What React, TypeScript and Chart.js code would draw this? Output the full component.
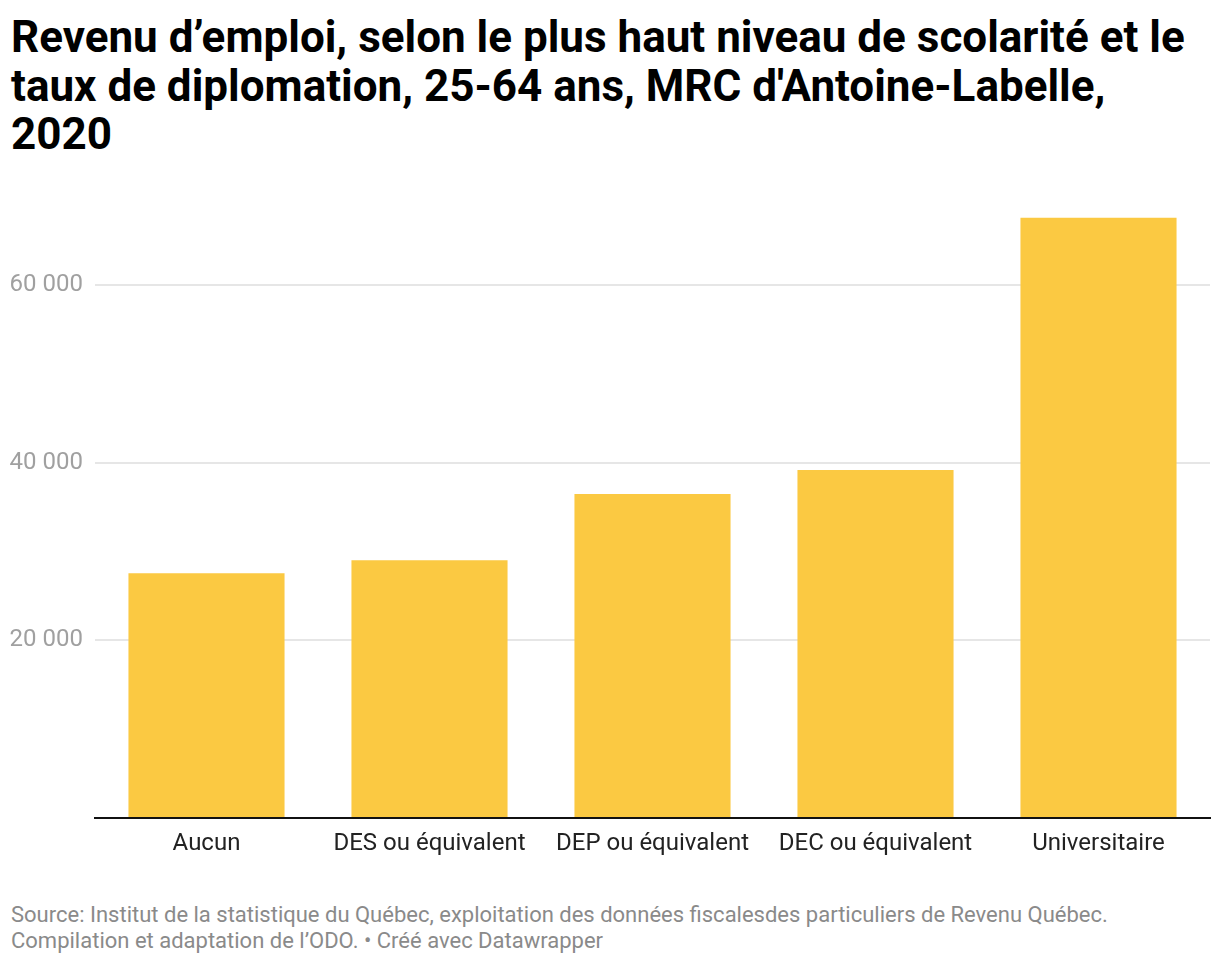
import React, { useEffect, useRef } from "react";
import { Chart, registerables } from "chart.js";

Chart.register(...registerables);

const categories = ["Aucun", "DES ou équivalent", "DEP ou équivalent", "DEC ou équivalent", "Universitaire"];
const revenus = [27550, 29010, 36450, 39150, 67550];
const yTicks = [20000, 40000, 60000];
const yTickLabels = ["20 000", "40 000", "60 000"];

const titleText = "Revenu d’emploi, selon le plus haut niveau de scolarité et le taux de diplomation, 25-64 ans, MRC d'Antoine-Labelle, 2020";
const sourceLine1 = "Source: Institut de la statistique du Québec, exploitation des données fiscalesdes particuliers de Revenu Québec.";
const sourceLine2 = "Compilation et adaptation de l’ODO. • Créé avec Datawrapper";

export default function App() {
  const ref = useRef<HTMLCanvasElement | null>(null);

  useEffect(() => {
    if (!ref.current) return;
    const chart = new Chart(ref.current, {
      type: "bar",
      data: {
        labels: categories,
        datasets: [
          {
            data: revenus,
            backgroundColor: "#fbc942",
            borderWidth: 0,
            barPercentage: 0.7,
            categoryPercentage: 1,
          },
        ],
      },
      options: {
        animation: false,
        responsive: false,
        maintainAspectRatio: false,
        layout: { padding: { top: 16, right: 10, left: 0, bottom: 0 } },
        plugins: { legend: { display: false }, tooltip: { enabled: false } },
        scales: {
          x: {
            grid: { display: false },
            border: { display: true, color: "#111111", width: 2, z: 1 },
            ticks: {
              color: "#222222",
              font: { family: "Roboto", size: 24 },
              padding: 4,
              maxRotation: 0,
              autoSkip: false,
            },
            afterFit: (s: any) => {
              s.height = 62;
            },
          },
          y: {
            min: 0,
            max: 70000,
            border: { display: false },
            grid: {
              drawTicks: false,
              lineWidth: 2,
              color: "#e6e6e6",
            },
            afterBuildTicks: (s: any) => {
              s.ticks = yTicks.map((v) => ({ value: v }));
            },
            ticks: {
              padding: 12,
              color: "#a0a0a0",
              autoSkip: false,
              font: { family: "Roboto", size: 24 },
              callback: (v: any) => {
                const i = yTicks.indexOf(Number(v));
                return i >= 0 ? yTickLabels[i] : "";
              },
            },
            afterFit: (s: any) => {
              s.width = 95;
              s.paddingTop = 0;
            },
          },
        },
      },
    });
    return () => chart.destroy();
  }, []);

  return (
    <div style={{ position: "absolute", top: 0, left: 0, width: 1220, height: 964, background: "#fff", fontFamily: "Roboto" }}>
      <div
        style={{
          position: "absolute",
          left: 11,
          top: 13,
          width: 1200,
          fontWeight: 700,
          fontSize: 44,
          lineHeight: "48.5px",
          color: "#000",
        }}
      >
        {titleText}
      </div>
      <canvas ref={ref} width={1220} height={700} style={{ position: "absolute", left: 0, top: 180, width: 1220, height: 700 }} />
      <div style={{ position: "absolute", left: 11, top: 902, fontSize: 22, lineHeight: "26px", color: "#8a8a8a" }}>
        <div>{sourceLine1}</div>
        <div>{sourceLine2}</div>
      </div>
    </div>
  );
}
